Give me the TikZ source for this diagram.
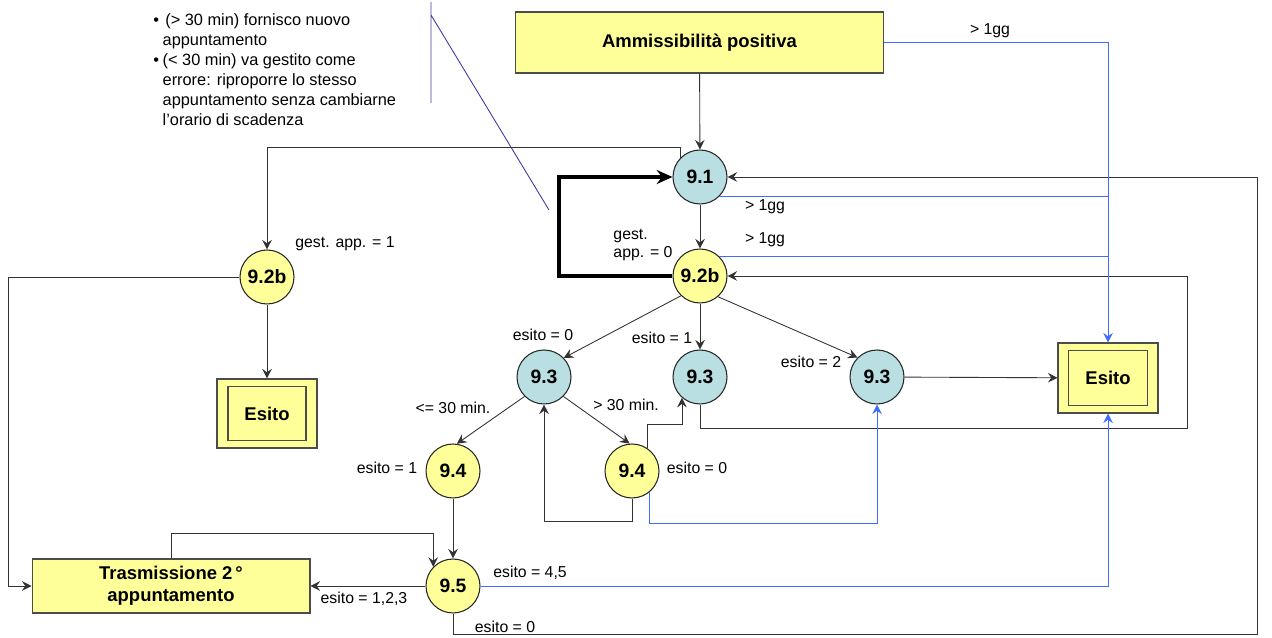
\documentclass[tikz,border=0pt]{standalone}
\usepackage{fontspec}
\setmainfont{Liberation Sans}
\usetikzlibrary{arrows.meta}
\definecolor{paleyellow}{HTML}{FFFF99}
\definecolor{paleteal}{HTML}{B9DFE3}
\definecolor{linkblue}{HTML}{3D6CFF}
\definecolor{noteblue}{HTML}{3C3CA0}
\begin{document}
\begin{tikzpicture}[x=0.02cm, y=-0.02cm, line width=0.5pt, draw=black!80,
  >={Stealth[length=5.5pt,width=5.5pt,inset=2pt]},
  state/.style={circle, draw=black!85, line width=0.6pt, minimum size=1.08cm, inner sep=0pt,
    font=\fontsize{11}{13}\selectfont\bfseries},
  box/.style={draw=black!70, line width=0.6pt, fill=paleyellow, align=center, inner sep=0pt,
    font=\fontsize{10.5}{12.5}\selectfont\bfseries},
  lbl/.style={inner sep=0pt, font=\fontsize{9}{10.5}\selectfont},
  blueflow/.style={draw=linkblue, ->}]
  \useasboundingbox (0,0) rectangle (1272,638);
  \node[box, minimum width=7.38cm, minimum height=1.22cm] (amm) at (699.5,42.5) {Ammissibilità positiva};
  \node[state, fill=paleteal] (n91) at (700,177) {9.1};
  \node[state, fill=paleyellow] (n92) at (700,276) {9.2b};
  \node[state, fill=paleyellow] (n92L) at (267,277) {9.2b};
  \node[state, fill=paleteal] (n93L) at (544,377) {9.3};
  \node[state, fill=paleteal] (n93M) at (700,377) {9.3};
  \node[state, fill=paleteal] (n93R) at (877,377) {9.3};
  \node[state, fill=paleyellow] (n94L) at (453,471) {9.4};
  \node[state, fill=paleyellow] (n94R) at (632,471) {9.4};
  \node[state, fill=paleyellow] (n95) at (453,586) {9.5};
  \node[box, minimum width=2cm, minimum height=1.4cm] (esitoR) at (1108,378) {};
  \node[box, minimum width=1.58cm, minimum height=1.1cm] (esitoRin) at (esitoR) {Esito};
  \node[box, minimum width=2cm, minimum height=1.38cm] (esitoL) at (267,413.5) {};
  \node[box, minimum width=1.56cm, minimum height=1.08cm] (esitoLin) at (esitoL) {Esito};
  \node[box, minimum width=5.56cm, minimum height=1.08cm] (tras) at (171,586) {Trasmissione 2\,°\\appuntamento};
  \node[anchor=north west, inner sep=0pt, font=\fontsize{9.3}{11.3}\selectfont] (note) at (153,11.5)
    {\begin{tabular}{@{}l@{\hspace{2pt}}l@{}}
      • & \,(> 30 min) fornisco nuovo\\
        & appuntamento\\
      • & (< 30 min) va gestito come\\
        & errore: riproporre lo stesso\\
        & appuntamento senza cambiarne\\
        & l'orario di scadenza
    \end{tabular}};
  \coordinate (noteTop) at (431,2);
  \coordinate (noteBot) at (431,103);
  \coordinate (noteKnee) at (431,15);
  \coordinate (noteTip) at (549,210);
  \draw[noteblue] (noteTop) -- (noteBot) (noteKnee) -- (noteTip);
  \draw
  (990,31) node[lbl] (ggA) {> 1gg}
  (765,207) node[lbl] (ggB) {> 1gg}
  (765,240) node[lbl] (ggC) {> 1gg}
  (643,245) node[lbl, align=left] (gest0) {gest.\\app. = 0}
  (345,244) node[lbl] (gest1) {gest. app. = 1}
  (543,335) node[lbl] (es0) {esito = 0}
  (662,338) node[lbl] (es1) {esito = 1}
  (811,362) node[lbl] (es2) {esito = 2}
  (453,408) node[lbl] (le30) {<= 30 min.}
  (626,405) node[lbl] (gt30) {> 30 min.}
  (387,468) node[lbl] (es94L) {esito = 1}
  (697,468) node[lbl] (es94R) {esito = 0}
  (530,573) node[lbl] (es45) {esito = 4,5}
  (364,599) node[lbl] (es123) {esito = 1,2,3}
  (505,627) node[lbl] (es95) {esito = 0};
  \draw[->] (amm) -- (n91);
  \draw[->] (n91) -- (n92);
  \draw[line width=2pt, black, -{Stealth[length=9pt,width=8pt,inset=3pt]}] (n92.west) -- (559,276) |- (n91.west);
  \draw[->] (n91.135) -- ++(0,-10) -| (n92L);
  \draw[->] (n92L) -- (esitoL);
  \draw[->] (n92L.west) -- (8,277) |- (tras.west);
  \draw[->] (tras.north) -- ++(0,-25) -| (n95.136);
  \draw[->] (n94L) -- (n95);
  \draw[->] (n95.west) -- (tras.east);
  \draw[->] (n92.226) -- (n93L.44);
  \draw[->] (n92) -- (n93M);
  \draw[->] (n92.-49) -- (n93R.135);
  \draw[->] (n93R) -- (esitoR);
  \draw[->] (n93L.225) -- (n94L.82);
  \draw[->] (n93L.-45) -- (n94R.95);
  \draw[->] (n94R.south) -- ++(0,23) -| (n93L.south);
  \draw[->] (n94R.56) -- ++(0,-24) -| (n93M.229);
  \draw[->] (n93M.south) |- (1187,428) |- (n92.east);
  \draw[->] (n95.south) |- (1257,634) |- (n91.east);
  \draw[blueflow] (amm.east) -| (esitoR.north);
  \draw[linkblue] (n91.-45) -- (n91.-45 -| esitoR.north);
  \draw[linkblue] (n92.45) -- (n92.45 -| esitoR.north);
  \draw[blueflow] (n94R.-50) -- ++(0,31) -| (n93R.south);
  \draw[blueflow] (n95.east) -| (esitoR.south);
\end{tikzpicture}
\end{document}
